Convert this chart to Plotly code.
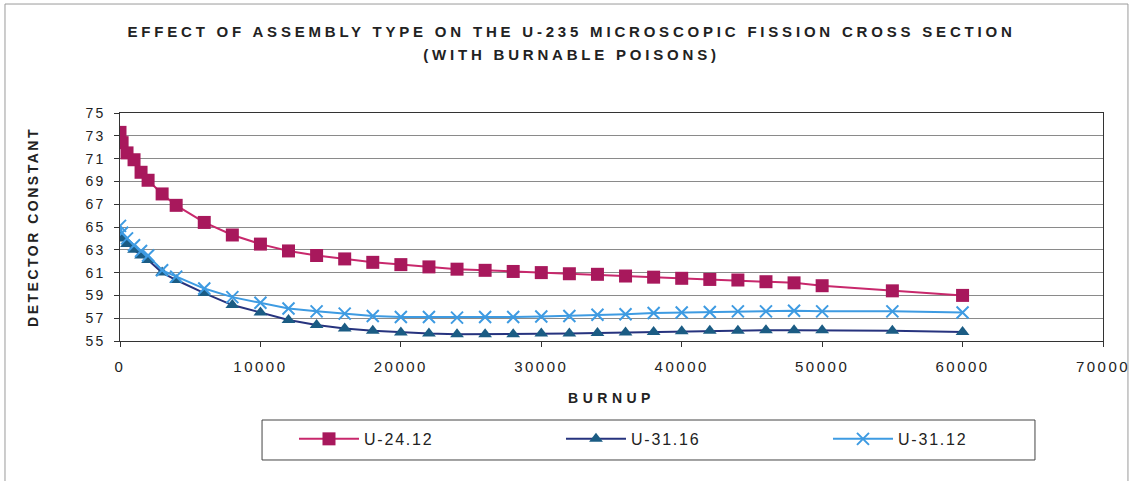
import plotly.graph_objects as go

burnup = [0, 150, 500, 1000, 1500, 2000, 3000, 4000, 6000, 8000, 10000,
          12000, 14000, 16000, 18000, 20000, 22000, 24000, 26000, 28000, 30000,
          32000, 34000, 36000, 38000, 40000, 42000, 44000, 46000, 48000, 50000,
          55000, 60000]

u_24_12 = [73.3, 72.4, 71.5, 70.9, 69.8, 69.1, 67.9, 66.9, 65.4, 64.3, 63.5,
           62.9, 62.5, 62.2, 61.9, 61.7, 61.5, 61.3, 61.2, 61.1, 61.0,
           60.9, 60.85, 60.7, 60.6, 60.5, 60.4, 60.35, 60.2, 60.1, 59.85,
           59.4, 59.0]

u_31_16 = [64.3, 64.0, 63.5, 63.0, 62.5, 62.1, 61.0, 60.35, 59.2, 58.15, 57.5,
           56.85, 56.4, 56.1, 55.9, 55.75, 55.65, 55.6, 55.6, 55.6, 55.65,
           55.65, 55.7, 55.75, 55.8, 55.85, 55.9, 55.9, 55.95, 55.95, 55.95,
           55.9, 55.8]

u_31_12 = [65.1, 64.5, 64.0, 63.4, 62.9, 62.5, 61.2, 60.65, 59.6, 58.85, 58.35,
           57.85, 57.6, 57.4, 57.2, 57.1, 57.1, 57.05, 57.1, 57.1, 57.15,
           57.2, 57.3, 57.35, 57.45, 57.5, 57.55, 57.6, 57.6, 57.65, 57.6,
           57.6, 57.5]

series_names = ["U-24.12", "U-31.16", "U-31.12"]
x_ticks = [0, 10000, 20000, 30000, 40000, 50000, 60000, 70000]
y_ticks = [55, 57, 59, 61, 63, 65, 67, 69, 71, 73, 75]

FONT = "Liberation Sans, Arial, sans-serif"

fig = go.Figure()
fig.add_trace(go.Scatter(
    x=burnup, y=u_24_12, name=series_names[0], mode="lines+markers",
    line=dict(color="#C8286C", width=2),
    marker=dict(symbol="square", size=13, color="#A8185C"),
))
fig.add_trace(go.Scatter(
    x=burnup, y=u_31_16, name=series_names[1], mode="lines+markers",
    line=dict(color="#26337E", width=2),
    marker=dict(symbol="triangle-up", size=12, color="#1B5C84"),
))
fig.add_trace(go.Scatter(
    x=burnup, y=u_31_12, name=series_names[2], mode="lines+markers",
    line=dict(color="#3E9BE2", width=2),
    marker=dict(symbol="x-thin-open", size=12, line=dict(color="#3E9BE2", width=2)),
))

fig.update_layout(
    width=1134, height=481,
    margin=dict(l=120, r=31, t=113, b=140),
    paper_bgcolor="white", plot_bgcolor="white",
    font=dict(family=FONT, size=14, color="#222"),
    title=dict(
        text="EFFECT OF ASSEMBLY TYPE ON THE U-235 MICROSCOPIC FISSION CROSS SECTION<br>(WITH BURNABLE POISONS)",
        x=0.504, xref="container", xanchor="center",
        y=0.923, yref="container", yanchor="top",
        font=dict(family=FONT, size=15, color="#222", weight="bold"),
    ),
    showlegend=True,
    legend=dict(
        orientation="h", x=0.177, y=-0.355, xanchor="left", yanchor="top",
        xref="paper", yref="paper",
        borderwidth=0, bgcolor="rgba(0,0,0,0)",
        font=dict(family=FONT, size=16, color="#222"),
        entrywidth=192, entrywidthmode="pixels", itemwidth=60,
    ),
)

fig.update_xaxes(
    range=[0, 70000], tickvals=x_ticks, ticktext=[str(v) for v in x_ticks],
    showgrid=False, zeroline=False,
    showline=True, linecolor="#333", linewidth=1, mirror=True,
    ticks="outside", ticklen=5, tickcolor="#333",
    ticklabelstandoff=7,
    tickfont=dict(family=FONT, size=15, color="#222"),
    title=dict(text="BURNUP", standoff=19,
               font=dict(family=FONT, size=14, color="#222", weight="bold")),
    automargin=False,
)
fig.update_yaxes(
    range=[55, 75], tickvals=y_ticks,
    showgrid=True, gridcolor="#8a8a8a", gridwidth=1, zeroline=False,
    showline=True, linecolor="#333", linewidth=1, mirror=True,
    ticks="outside", ticklen=5, tickcolor="#333",
    ticklabelstandoff=6,
    tickfont=dict(family=FONT, size=14, color="#222"),
    title=dict(text="DETECTOR CONSTANT", standoff=47,
               font=dict(family=FONT, size=14, color="#222", weight="bold")),
    automargin=False,
)

# outer chart frame
fig.add_shape(type="rect", xref="paper", yref="paper",
              x0=-0.117, x1=1.0254, y0=-0.66, y1=1.478,
              line=dict(color="#9a9a9a", width=1), fillcolor="rgba(0,0,0,0)",
              layer="below")
# legend box
fig.add_shape(type="rect", xref="paper", yref="paper",
              x0=0.1445, x1=0.9308, y0=-0.5219, y1=-0.3465,
              line=dict(color="#444", width=1), fillcolor="white",
              layer="below")

post = """
var gd = document.getElementById('{plot_id}');
function sp(sel, v){ gd.querySelectorAll(sel).forEach(function(e){ e.style.letterSpacing = v; }); }
sp('.gtitle', '3.8px');
sp('.xtitle', '4.5px');
sp('.ytitle', '2.5px');
sp('.xtick text', '2.5px');
sp('.ytick text', '2px');
sp('.legendtext', '1.8px');
var lines = gd.querySelectorAll('.gtitle tspan.line');
if (lines.length > 1) { lines[1].setAttribute('dy', '23'); }
"""

fig.write_html("out.html", post_script=post)
